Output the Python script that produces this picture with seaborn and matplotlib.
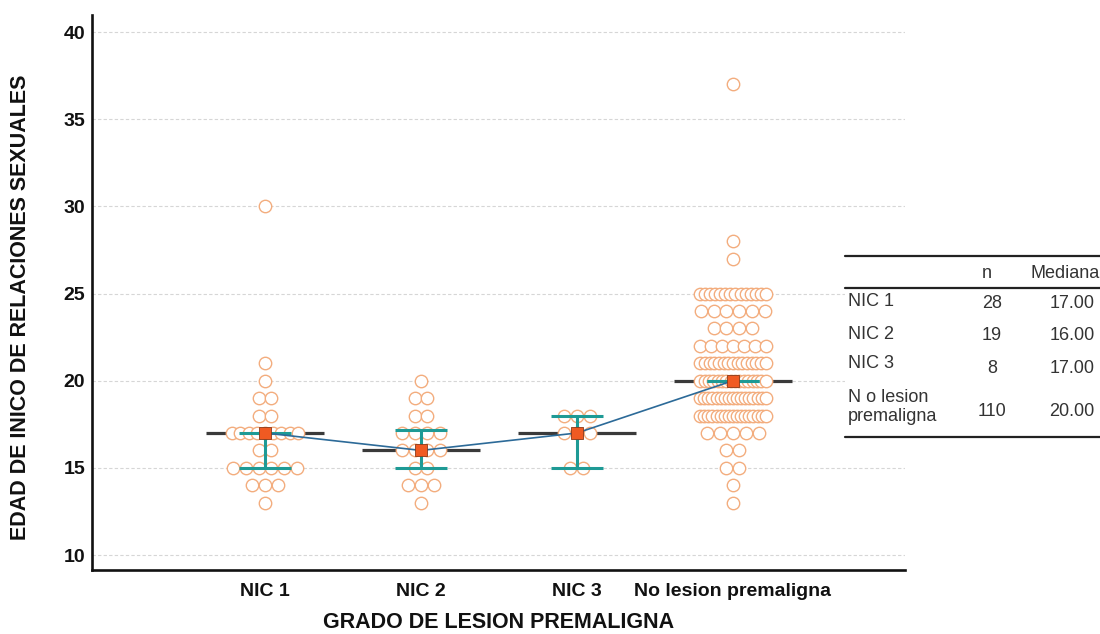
import numpy as np
import pandas as pd
import matplotlib
matplotlib.use("Agg")
import matplotlib.pyplot as plt
from matplotlib.lines import Line2D
import seaborn as sns

# ---------------- data ----------------
categories = ["NIC 1", "NIC 2", "NIC 3", "No lesion premaligna"]
table_labels = ["NIC 1", "NIC 2", "NIC 3", "N o lesion\npremaligna"]

nic1_values = [13, 14, 15, 16, 17, 18, 19, 20, 21, 30]
nic1_counts = [1, 3, 6, 2, 9, 2, 2, 1, 1, 1]

nic2_values = [13, 14, 15, 16, 17, 18, 19, 20]
nic2_counts = [1, 3, 2, 4, 4, 2, 2, 1]

nic3_values = [15, 17, 18]
nic3_counts = [2, 3, 3]

nolesion_values = [13, 14, 15, 16, 17, 18, 19, 20, 21, 22, 23, 24, 25, 27, 28, 37]
nolesion_counts = [1, 1, 2, 2, 5, 17, 17, 16, 15, 7, 4, 6, 14, 1, 1, 1]

medians = [17, 16, 17, 20]
ci_lower = [15, 15, 15, 20]
ci_upper = [17, 17.2, 18, 20]
n_table = [28, 19, 8, 110]
mediana_table = ["17.00", "16.00", "17.00", "20.00"]

# ---------------- build long table ----------------
groups = [(nic1_values, nic1_counts), (nic2_values, nic2_counts),
          (nic3_values, nic3_counts), (nolesion_values, nolesion_counts)]

DOT = 0.083     # dot diameter in category units
SPAN = 0.42     # maximum spread of dot centres in a row

rows = []
for gi, (vals, cnts) in enumerate(groups):
    for v, k in zip(vals, cnts):
        step = DOT if k < 2 else min(DOT, SPAN / (k - 1))
        offs = (np.arange(k) - (k - 1) / 2) * step
        for o in offs:
            rows.append({"grupo": categories[gi], "xpos": gi + o, "edad": v})
df = pd.DataFrame(rows)

# ---------------- style ----------------
sns.set_theme(style="white")
plt.rcParams["font.family"] = ["Liberation Sans", "DejaVu Sans"]

fig = plt.figure(figsize=(11, 6.34), dpi=100)
ax = fig.add_axes([92 / 1100, 64 / 634, 813 / 1100, 555 / 634])

xs = np.arange(len(categories))

# median reference lines (behind dots)
ax.hlines(medians, xs - 0.376, xs + 0.376, color="#3a3a3a", lw=2.3, zorder=1.5)

# dots
sns.scatterplot(data=df, x="xpos", y="edad", ax=ax, marker="o", s=80,
                facecolor="white", edgecolor="#F3AD7E", linewidth=1.0,
                zorder=2, legend=False)

# teal interval bars
med = np.array(medians, dtype=float)
ax.errorbar(xs, med, yerr=[med - np.array(ci_lower), np.array(ci_upper) - med],
            fmt="none", ecolor="#1E9A95", elinewidth=2.2, capsize=18.5,
            capthick=2.2, zorder=3)

# line joining the medians
sns.lineplot(x=xs, y=medians, ax=ax, color="#2C6A98", lw=1.2, zorder=4,
             legend=False)
# median squares
sns.scatterplot(x=xs, y=medians, ax=ax, marker="s", s=80, color="#F05A22",
                edgecolor="#8a3a1a", linewidth=0.6, zorder=5, legend=False)

# ---------------- axes ----------------
ax.set_xlim(-1.109, 4.103)
ax.set_ylim(9.14, 40.98)
ax.set_yticks([10, 15, 20, 25, 30, 35, 40])
ax.set_xticks(xs)
ax.set_xticklabels(categories)
ax.yaxis.grid(True, linestyle=(0, (3, 2)), color="#d6d6d6", lw=0.8)
ax.xaxis.grid(False)
ax.set_axisbelow(True)

for side in ["top", "right"]:
    ax.spines[side].set_visible(False)
for side in ["left", "bottom"]:
    ax.spines[side].set_color("#111111")
    ax.spines[side].set_linewidth(1.9)

ax.tick_params(axis="both", direction="in", length=10, width=1.3,
               color="#444444", labelsize=14, labelcolor="#111111")
ax.tick_params(axis="y", pad=5)
ax.tick_params(axis="x", pad=9)
for lab in ax.get_xticklabels() + ax.get_yticklabels():
    lab.set_fontweight("bold")

ax.set_xlabel("GRADO DE LESION PREMALIGNA", fontsize=15.5, fontweight="bold",
              color="#111111")
ax.set_ylabel("EDAD DE INICO DE RELACIONES SEXUALES", fontsize=15.5,
              fontweight="bold", color="#111111")
ax.xaxis.set_label_coords(0.5, -0.076)
ax.yaxis.set_label_coords(-0.0755, 0.474)

# ---------------- summary table ----------------
def fx(px):
    return px / 1100

def fy(py):
    return 1 - py / 634

fig.patches.append(plt.Rectangle((fx(845), fy(440)), fx(1100) - fx(845),
                                 fy(252) - fy(440), transform=fig.transFigure,
                                 facecolor="white", edgecolor="none", zorder=1))
for py in [256, 288, 437]:
    fig.add_artist(Line2D([fx(845), fx(1100)], [fy(py), fy(py)],
                          transform=fig.transFigure, color="#222222", lw=1.6,
                          zorder=2))

tcol = "#333333"
tsize = 13
fig.text(fx(987), fy(273), "n", ha="center", va="center", fontsize=tsize, color=tcol)
fig.text(fx(1030), fy(273), "Mediana", ha="left", va="center", fontsize=tsize, color=tcol)

label_y = [302, 334, 364, 407]
value_y = [303, 336, 368, 412]
for lab, ly, vy, nn, mm in zip(table_labels, label_y, value_y, n_table, mediana_table):
    fig.text(fx(848), fy(ly), lab, ha="left", va="center", fontsize=tsize,
             color=tcol, linespacing=1.2)
    fig.text(fx(992), fy(vy), str(nn), ha="center", va="center", fontsize=tsize, color=tcol)
    fig.text(fx(1072), fy(vy), mm, ha="center", va="center", fontsize=tsize, color=tcol)

fig.savefig("out.png", dpi=100)
